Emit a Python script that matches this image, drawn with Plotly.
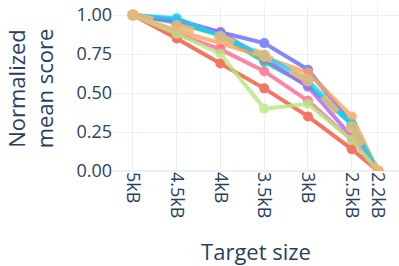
import plotly.graph_objects as go

sizes = [5.0, 4.5, 4.0, 3.5, 3.0, 2.5, 2.2]
size_labels = ["5kB", "4.5kB", "4kB", "3.5kB", "3kB", "2.5kB", "2.2kB"]

s_blue = [1.0, 0.97, 0.89, 0.82, 0.65, 0.30, 0.0]
s_red = [1.0, 0.85, 0.69, 0.53, 0.35, 0.14, 0.0]
s_green = [1.0, 0.95, 0.87, 0.70, 0.55, 0.30, 0.0]
s_purple = [1.0, 0.96, 0.89, 0.72, 0.54, 0.22, 0.0]
s_orange = [1.0, 0.90, 0.82, 0.73, 0.63, 0.35, 0.0]
s_cyan = [1.0, 0.98, 0.87, 0.74, 0.58, 0.30, 0.0]
s_pink = [1.0, 0.88, 0.78, 0.64, 0.45, 0.20, 0.0]
s_lgreen = [1.0, 0.88, 0.75, 0.40, 0.43, 0.20, 0.0]
s_mean = [1.0, 0.93, 0.86, 0.74, 0.58, 0.28, 0.0]

series = [
    (s_blue, "#636efa"),
    (s_red, "#EF553B"),
    (s_green, "#00cc96"),
    (s_purple, "#ab63fa"),
    (s_orange, "#FFA15A"),
    (s_cyan, "#19d3f3"),
    (s_pink, "#FF6692"),
    (s_lgreen, "#B6E880"),
]

fig = go.Figure()
for vals, col in series:
    fig.add_trace(go.Scatter(x=sizes, y=vals, mode="lines+markers",
                             line=dict(color=col, width=4),
                             marker=dict(color=col, size=10),
                             opacity=0.8, showlegend=False))
fig.add_trace(go.Scatter(x=sizes, y=s_mean, mode="lines+markers",
                         line=dict(color="#E9B878", width=7, dash="dash"),
                         marker=dict(color="#E9B878", size=12),
                         opacity=0.85, showlegend=False))

fig.update_layout(
    width=399, height=266,
    template="plotly_white",
    font=dict(family="Open Sans", size=18, color="#2a3f5f"),
    margin=dict(l=113, r=0, t=6, b=95),
    xaxis=dict(title=dict(text="Target size", font=dict(size=22), standoff=27),
               range=[5.227, 1.96], tickvals=sizes, ticktext=size_labels,
               tickangle=90, tickfont=dict(size=18), showline=False, zeroline=False),
    yaxis=dict(title=dict(text="Normalized<br>mean score", font=dict(size=22), standoff=16),
               range=[0, 1.058], tickvals=[0, 0.25, 0.5, 0.75, 1.0],
               ticktext=["0.00", "0.25", "0.50", "0.75", "1.00"],
               tickfont=dict(size=18)),
)
fig.write_html("out.html", config={"displayModeBar": False},
               post_script="document.body.style.margin='0px';")
